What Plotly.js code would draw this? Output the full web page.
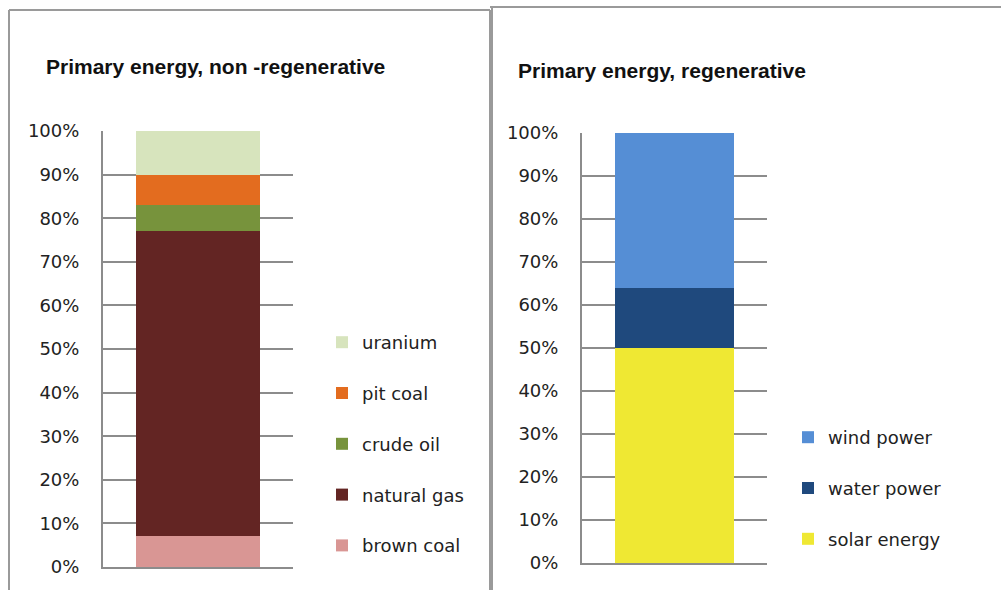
<!DOCTYPE html>
<html>
<head>
<meta charset="utf-8">
<script src="https://cdn.plot.ly/plotly-3.0.1.min.js"></script>
<style>html,body{margin:0;padding:0;background:#fff;}#chart{width:1001px;height:590px;}</style>
</head>
<body>
<div id="chart"></div>
<script>
// Data (percent shares)
const nonRegNames = ["brown coal", "natural gas", "crude oil", "pit coal", "uranium"];
const nonRegValues = [7, 70, 6, 7, 10];
const nonRegColors = ["#d99694", "#632523", "#77933c", "#e36c1f", "#d7e4bd"];

const regNames = ["solar energy", "water power", "wind power"];
const regValues = [50, 14, 36];
const regColors = ["#efe833", "#1f497d", "#558ed5"];

const titleLeft = "Primary energy, non -regenerative";
const titleRight = "Primary energy, regenerative";

const W = 1001, H = 590;
const px = v => v / W;
const py = v => 1 - v / H;

const traces = [];
nonRegNames.forEach((n, i) => {
  traces.push({
    type: "bar", x: [0], y: [nonRegValues[i]], name: n, width: 0.65,
    marker: {color: nonRegColors[i], line: {width: 0}},
    xaxis: "x", yaxis: "y", legend: "legend", legendgroup: n,
    legendrank: 100 - i, hoverinfo: "name+y"
  });
});
regNames.forEach((n, i) => {
  traces.push({
    type: "bar", x: [0], y: [regValues[i]], name: n, width: 0.64,
    marker: {color: regColors[i], line: {width: 0}},
    xaxis: "x2", yaxis: "y2", legend: "legend2", legendgroup: n,
    legendrank: 100 - i, hoverinfo: "name+y"
  });
});

const gridC = "#8c8c8c";
const tickFont = {family: "DejaVu Sans", size: 18, color: "#222"};
const yax = (dom) => ({
  domain: dom, range: [0, 100], dtick: 10, ticksuffix: "%",
  showgrid: true, gridcolor: gridC, gridwidth: 2,
  showline: true, linecolor: gridC, linewidth: 2, zeroline: false,
  ticks: "", tickfont: tickFont, ticklabelstandoff: 18, fixedrange: true
});
const xax = (dom, anchor) => ({
  domain: dom, range: [-0.5, 0.5], showticklabels: false, showgrid: false,
  showline: true, linecolor: gridC, linewidth: 2, zeroline: false, ticks: "",
  anchor: anchor, fixedrange: true
});

const borderC = "#9a9a9a";
const line = (x0, y0, x1, y1) => ({
  type: "line", xref: "paper", yref: "paper",
  x0: px(x0), y0: py(y0), x1: px(x1), y1: py(y1),
  line: {color: borderC, width: 2}, layer: "above"
});

const legendFont = {family: "DejaVu Sans", size: 18, color: "#222"};
const titleFont = {family: "Liberation Sans", size: 21, color: "#111", weight: "bold"};

const layout = {
  width: W, height: H,
  margin: {l: 0, r: 0, t: 0, b: 0},
  paper_bgcolor: "#fff", plot_bgcolor: "rgba(0,0,0,0)",
  barmode: "stack", showlegend: true,
  xaxis: xax([px(103), px(293)], "y"),
  yaxis: yax([1 - 567 / H, 1 - 131 / H]),
  xaxis2: xax([px(582), px(767)], "y2"),
  yaxis2: Object.assign(yax([1 - 563 / H, 1 - 133 / H]), {anchor: "x2"}),
  legend: {
    x: px(322), y: py(324), xanchor: "left", yanchor: "top",
    traceorder: "grouped", tracegroupgap: 24.4,
    font: legendFont, bgcolor: "rgba(0,0,0,0)", itemclick: false, itemdoubleclick: false
  },
  legend2: {
    x: px(788), y: py(419), xanchor: "left", yanchor: "top",
    traceorder: "grouped", tracegroupgap: 24.4,
    font: legendFont, bgcolor: "rgba(0,0,0,0)", itemclick: false, itemdoubleclick: false
  },
  annotations: [
    {text: titleLeft, xref: "paper", yref: "paper", x: px(44), y: py(66),
     xanchor: "left", yanchor: "middle", showarrow: false, font: titleFont},
    {text: titleRight, xref: "paper", yref: "paper", x: px(516), y: py(70),
     xanchor: "left", yanchor: "middle", showarrow: false, font: titleFont}
  ],
  shapes: [
    line(9, 590, 9, 10), line(9, 10, 490, 10), line(490, 10, 490, 590),
    line(492, 7, 492, 590), line(490, 7, 1001, 7)
  ]
};

Plotly.newPlot("chart", traces, layout, {displayModeBar: false, staticPlot: true});
</script>
</body>
</html>
